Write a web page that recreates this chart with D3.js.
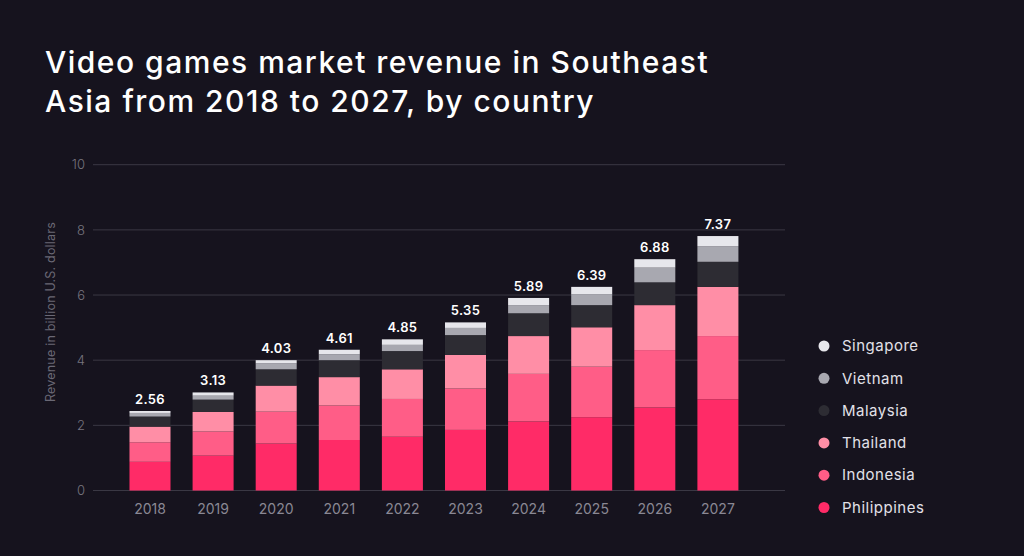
<!DOCTYPE html>
<html><head><meta charset="utf-8">
<script src="https://cdn.jsdelivr.net/npm/d3@7"></script>
<style>
html,body{margin:0;padding:0;background:#16131e;}
svg{display:block;}
</style></head>
<body><svg id="c" width="1024" height="556"></svg>
<script>
const years = ["2018","2019","2020","2021","2022","2023","2024","2025","2026","2027"];
const countries = ["Philippines","Indonesia","Thailand","Malaysia","Vietnam","Singapore"];
const philippines = [0.88,1.07,1.44,1.55,1.65,1.86,2.12,2.25,2.55,2.80];
const indonesia   = [0.60,0.74,0.98,1.06,1.16,1.27,1.46,1.55,1.76,1.94];
const thailand    = [0.48,0.60,0.80,0.87,0.91,1.03,1.16,1.21,1.38,1.51];
const malaysia    = [0.31,0.38,0.50,0.52,0.56,0.61,0.70,0.68,0.70,0.77];
const vietnam     = [0.11,0.12,0.18,0.18,0.19,0.22,0.25,0.33,0.45,0.48];
const singapore   = [0.06,0.10,0.10,0.14,0.17,0.17,0.22,0.23,0.26,0.31];
const totalLabels = ["2.56","3.13","4.03","4.61","4.85","5.35","5.89","6.39","6.88","7.37"];
const yTicks = [0,2,4,6,8,10];
const colors = ["#ff2b67","#ff5d87","#ff8ea6","#2d2c33","#a8a8b0","#e7e7ec"];

const series = [philippines,indonesia,thailand,malaysia,vietnam,singapore];
const rows = years.map((yr,i)=>{const r={year:yr}; countries.forEach((c,k)=>r[c]=series[k][i]); return r;});
const stacked = d3.stack().keys(countries)(rows);

const svg = d3.select("#c");
const font = "Inter, 'Noto Sans', sans-serif";

// title
const title = svg.append("text")
  .attr("fill","#ffffff").attr("font-family",font).attr("font-size",30).attr("font-weight",500)
  .attr("letter-spacing",1.5);
title.append("tspan").attr("x",45).attr("y",73).text("Video games market revenue in Southeast");
title.append("tspan").attr("x",45).attr("y",112).text("Asia from 2018 to 2027, by country");

const yScale = d3.scaleLinear().domain([0,10]).range([490.5,164.7]);
const xScale = d3.scaleBand().domain(years).range([107.4,760.5]).padding(0.35);

// gridlines
svg.append("g").selectAll("line").data(yTicks).join("line")
  .attr("x1",93).attr("x2",785).attr("y1",d=>yScale(d)).attr("y2",d=>yScale(d))
  .attr("stroke","#3a3844").attr("stroke-width",1);

// y axis labels
const yAxis = svg.append("g").attr("transform","translate(85,0)")
  .call(d3.axisLeft(yScale).tickValues(yTicks).tickSize(0).tickPadding(0));
yAxis.select(".domain").remove();
yAxis.selectAll("text").attr("fill","#76747f").attr("font-family",font).attr("font-size",13).attr("font-weight",300);

// y title
svg.append("text").attr("transform","translate(55,312) rotate(-90)")
  .attr("text-anchor","middle").attr("fill","#6a6875").attr("font-family",font).attr("font-size",12.5)
  .attr("letter-spacing",0.2)
  .text("Revenue in billion U.S. dollars");

// bars
svg.append("g").selectAll("g").data(stacked).join("g")
  .attr("fill",(d,i)=>colors[i])
  .selectAll("rect").data(d=>d).join("rect")
  .attr("x",d=>xScale(d.data.year)).attr("width",xScale.bandwidth())
  .attr("y",d=>yScale(d[1])).attr("height",d=>yScale(d[0])-yScale(d[1]));

// totals
const topLayer = stacked[stacked.length-1];
svg.append("g").selectAll("text").data(topLayer).join("text")
  .attr("x",d=>xScale(d.data.year)+xScale.bandwidth()/2).attr("y",d=>yScale(d[1])-7)
  .attr("text-anchor","middle").attr("fill","#ffffff").attr("font-family",font)
  .attr("font-size",13).attr("font-weight",600).attr("letter-spacing",0.3)
  .text((d,i)=>totalLabels[i]);

// x axis
const xAxis = svg.append("g").attr("transform","translate(0,500)")
  .call(d3.axisBottom(xScale).tickSize(0).tickPadding(0));
xAxis.select(".domain").remove();
xAxis.selectAll("text").attr("fill","#8a8894").attr("font-family",font).attr("font-size",14).attr("dy","1.0em");

// legend
const legendOrder = countries.slice().reverse();
const lg = svg.append("g").selectAll("g").data(legendOrder).join("g")
  .attr("transform",(d,i)=>`translate(824,${346+i*32.3})`);
lg.append("circle").attr("r",5.5).attr("fill",d=>colors[countries.indexOf(d)]);
lg.append("text").attr("x",18).attr("dy","0.35em").attr("fill","#e2e1e8")
  .attr("font-family",font).attr("font-size",15).attr("letter-spacing",0.5).text(d=>d);
</script></body></html>
